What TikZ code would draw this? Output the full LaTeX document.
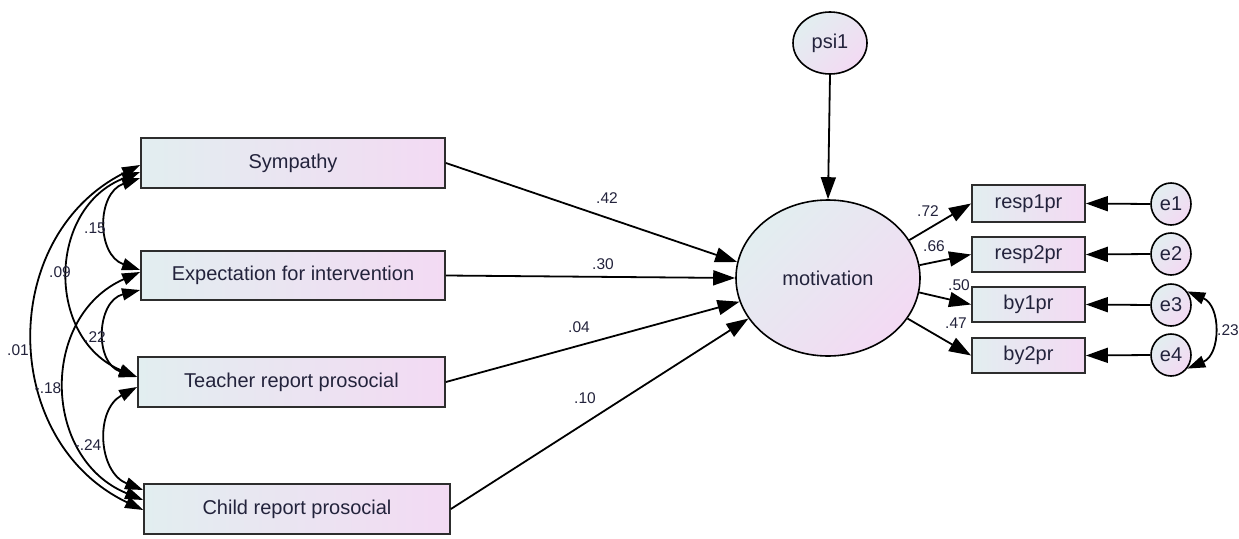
\documentclass[tikz,border=0pt]{standalone}
\usepackage{fontspec}
\setmainfont{Liberation Sans}
\usetikzlibrary{arrows.meta}
\usetikzlibrary{shapes.geometric}

\definecolor{ink}{RGB}{35,35,60}
\definecolor{boxl}{RGB}{226,238,240}
\definecolor{boxr}{RGB}{243,218,243}
\definecolor{rim}{RGB}{45,45,45}

\tikzset{
  obs/.style={
    rectangle,
    draw=rim,
    line width=1.8pt,
    left color=boxl,
    right color=boxr,
    inner sep=0pt,
    text=ink,
    font=\fontsize{20}{24}\selectfont,
  },
  lat/.style={
    ellipse,
    draw=black,
    line width=1.6pt,
    left color=boxl,
    right color=boxr,
    shading angle=45,
    inner sep=0pt,
    text=ink,
    font=\fontsize{20}{24}\selectfont,
  },
  arr/.style={
    line width=1.8pt,
    -{Triangle[length=22pt,width=15pt]},
  },
  cov/.style={
    line width=1.8pt,
    {Triangle[length=18pt,width=12pt]}-{Triangle[length=18pt,width=12pt]},
  },
  lbl/.style={
    inner sep=0pt,
    text=ink,
    font=\fontsize{15.5}{18}\selectfont,
  },
}

\begin{document}
\begin{tikzpicture}[x=1pt,y=-1pt]
  \useasboundingbox[fill=white] (0, 0) rectangle (1239, 538);

  \node[obs, minimum width=304pt, minimum height=50pt] (sym) at (293, 163) {Sympathy};
  \node[obs, minimum width=304pt, minimum height=49pt] (exp) at (293, 275.5) {Expectation for intervention};
  \node[obs, minimum width=307pt, minimum height=50pt] (tch) at (291.5, 382) {Teacher report prosocial};
  \node[obs, minimum width=306pt, minimum height=50pt] (chd) at (297, 509) {Child report prosocial};

  \node[lat, minimum width=184pt, minimum height=156pt] (mot) at (828, 278) {motivation};
  \node[lat, minimum width=74pt, minimum height=62pt] (psi) at (830, 43) {psi1};

  \node[obs, minimum width=113pt, minimum height=37pt] (r1) at (1028.5, 203.5) {resp1pr};
  \node[obs, minimum width=113pt, minimum height=35pt] (r2) at (1028.5, 254.5) {resp2pr};
  \node[obs, minimum width=113pt, minimum height=35pt] (b1) at (1028.5, 304.5) {by1pr};
  \node[obs, minimum width=113pt, minimum height=35pt] (b2) at (1028.5, 355.5) {by2pr};

  \node[lat, minimum width=40pt, minimum height=42pt] (e1) at (1171, 204) {e1};
  \node[lat, minimum width=40pt, minimum height=42pt] (e2) at (1171, 254) {e2};
  \node[lat, minimum width=40pt, minimum height=42pt] (e3) at (1171, 305) {e3};
  \node[lat, minimum width=40pt, minimum height=42pt] (e4) at (1171, 355) {e4};

  \draw[arr] (sym.east) -- (mot.170);
  \draw[arr] (exp.east) -- (mot.180);
  \draw[arr] (tch.east) -- (mot.195);
  \draw[arr] (chd.east) -- (mot.207);
  \draw[arr] (psi.south) -- (mot.north);

  \draw[arr] (mot.25) -- (r1.west);
  \draw[arr] (mot.8) -- (r2.west);
  \draw[arr] (mot.-9) -- (b1.west);
  \draw[arr] (mot.-27) -- (b2.west);

  \draw[arr] (e1.west) -- (r1.east);
  \draw[arr] (e2.west) -- (r2.east);
  \draw[arr] (e3.west) -- (b1.east);
  \draw[arr] (e4.west) -- (b2.east);

  \draw[cov] ([yshift=-15pt]sym.west) to[bend right=71, looseness=1.29] ([yshift=5.5pt]exp.west);
  \draw[cov] ([yshift=-14.5pt]exp.west) to[bend right=74, looseness=1.33] ([yshift=5pt]tch.west);
  \draw[cov] ([yshift=-5pt]tch.west) to[bend right=65, looseness=1.2] ([yshift=19pt]chd.west);
  \draw[cov] ([yshift=-9pt]sym.west) to[bend right=68, looseness=1.24] ([yshift=5pt]tch.west);
  \draw[cov] ([yshift=3.5pt]exp.west) to[bend right=67, looseness=1.23] ([yshift=9pt]chd.west);
  \draw[cov] ([yshift=-2pt]sym.west) to[bend right=64, looseness=1.18] ([yshift=-1pt]chd.west);
  \draw[cov] (e3.40) to[bend left=67, looseness=1.22] (e4.-40);

  \node[lbl] (c15) at (95, 228) {.15};
  \node[lbl] (c09) at (60, 272) {.09};
  \node[lbl] (c22) at (95, 337) {.22};
  \node[lbl] (c01) at (18, 350) {.01};
  \node[lbl] (c18) at (48, 388) {-.18};
  \node[lbl] (c24) at (88, 445) {-.24};

  \node[lbl] (w42) at (607, 198) {.42};
  \node[lbl] (w30) at (603, 264) {.30};
  \node[lbl] (w04) at (579, 327) {.04};
  \node[lbl] (w10) at (585, 398) {.10};

  \node[lbl] (l72) at (928, 211) {.72};
  \node[lbl] (l66) at (934, 246) {.66};
  \node[lbl] (l50) at (959, 285) {.50};
  \node[lbl] (l47) at (956, 323) {.47};
  \node[lbl] (c23) at (1228, 330) {.23};
\end{tikzpicture}
\end{document}
